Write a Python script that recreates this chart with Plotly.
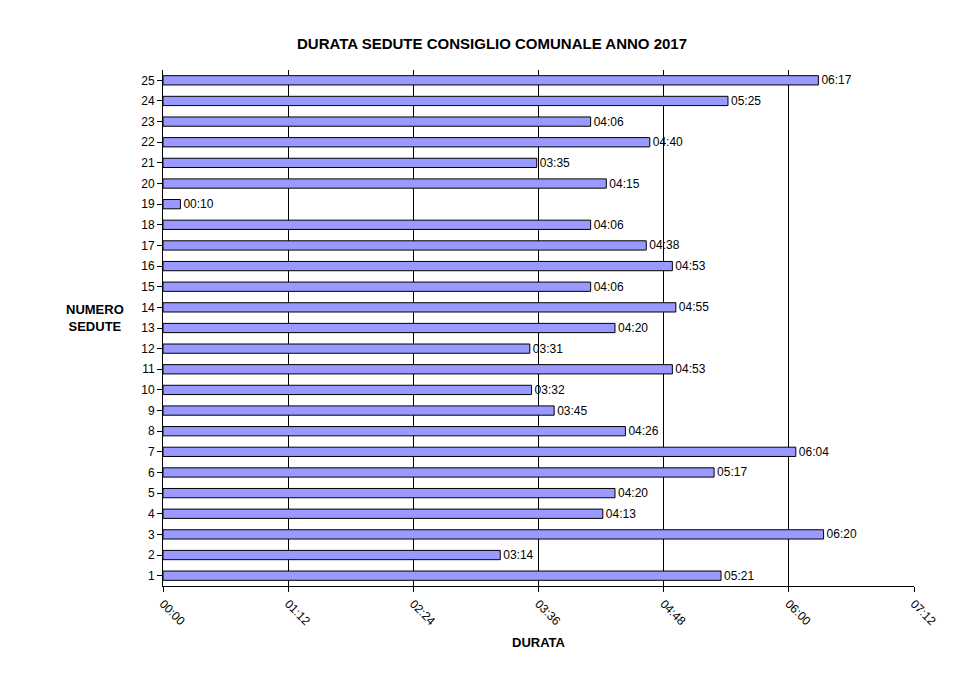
import plotly.graph_objects as go

sedute = list(range(1, 26))
durate = ["05:21","03:14","06:20","04:13","04:20","05:17","06:04","04:26","03:45","03:32",
          "04:53","03:31","04:20","04:55","04:06","04:53","04:38","04:06","00:10","04:15",
          "03:35","04:40","04:06","05:25","06:17"]
tick_vals = [0, 72, 144, 216, 288, 360, 432]
tick_text = ["00:00","01:12","02:24","03:36","04:48","06:00","07:12"]

minutes = [int(d.split(":")[0])*60 + int(d.split(":")[1]) for d in durate]

fig = go.Figure(go.Bar(
    x=minutes, y=sedute, orientation="h", width=0.45,
    marker=dict(color="#9999ff", line=dict(color="black", width=1)),
    text=durate, textposition="outside", cliponaxis=False, constraintext="none",
    textfont=dict(family="Liberation Sans, Arial", size=12, color="black"),
))
fig.update_layout(
    width=968, height=676, plot_bgcolor="white", paper_bgcolor="white",
    margin=dict(l=155, r=62, t=62, b=98),
    font=dict(family="Liberation Sans, Arial", size=12, color="black"),
    title=dict(text="<b>DURATA SEDUTE CONSIGLIO COMUNALE ANNO 2017</b>", x=0.5, y=0.955,
               xanchor="center", font=dict(size=15)),
    showlegend=False,
    xaxis=dict(range=[0, 432], tickvals=tick_vals, ticktext=tick_text, tickangle=45,
               showgrid=True, gridcolor="black", gridwidth=1, showline=True, linecolor="black",
               ticks="outside", ticklen=5, tickcolor="black", zeroline=False,
               title=dict(text="<b>DURATA</b>", font=dict(size=13), standoff=10)),
    yaxis=dict(range=[0.5, 25.5], tickvals=sedute, showgrid=False, showline=True,
               linecolor="black", ticks="outside", ticklen=5, tickcolor="black"),
    annotations=[dict(text="<b>NUMERO<br>SEDUTE</b>", xref="paper", yref="paper",
                      x=-0.09, y=0.52, showarrow=False, font=dict(size=13), xanchor="center")],
)
fig.write_html("out.html")
